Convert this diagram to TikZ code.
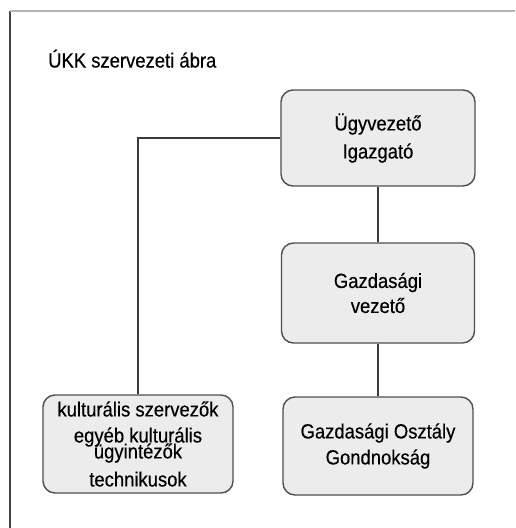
\documentclass[tikz,border=0pt]{standalone}
\usepackage{fontspec}
\setmainfont[FakeStretch=0.9,FakeBold=0.4]{Liberation Sans}
\begin{document}
\begin{tikzpicture}[x=1pt,y=-1pt,
  orgbox/.style={draw=boxline, fill=boxfill, line width=1.4pt, rounded corners=12pt,
    inner sep=0pt, align=center, font=\fontsize{20.5}{26}\selectfont},
  conn/.style={draw=connline, line width=1.4pt},
  ]
\definecolor{boxline}{HTML}{4F4F4F}
\definecolor{boxfill}{HTML}{ECECEC}
\definecolor{connline}{HTML}{3A3A3A}
\definecolor{frameleft}{HTML}{454545}
\definecolor{frametop}{HTML}{B4B4B4}
\useasboundingbox (0,0) rectangle (515,528);
\fill[white] (0,0) rectangle (515,528);
% frame
\coordinate (ftl) at (10,11);
\coordinate (fbl) at (10,528);
\coordinate (ftr) at (515,11);
\draw[frameleft, line width=1.3pt] (ftl) -- (fbl);
\draw[frametop, line width=1.3pt] (ftl) -- (ftr);
% title
\node[anchor=base west, inner sep=0pt, font=\fontsize{20.5}{22}\selectfont] (title) at (48,67.5) {ÚKK szervezeti ábra};
% boxes
\node[orgbox, minimum width=194pt, minimum height=96pt] (b1) at (378,138) {Ügyvezető\\[2pt]Igazgató};
\node[orgbox, minimum width=193pt, minimum height=100pt] (b2) at (378,293) {Gazdasági\\[-1pt]vezető};
\node[orgbox, minimum width=190pt, minimum height=98pt] (b3) at (138,444) {kulturális szervezők\\egyéb kulturális\\[-10pt]ügyintézők\\[2pt]technikusok};
\node[orgbox, minimum width=190pt, minimum height=98pt] (b4) at (378,446) {Gazdasági Osztály\\Gondnokság};
% connectors
\draw[conn] (b1.west) -| (b3.north);
\draw[conn] (b1.south) -- (b2.north);
\draw[conn] (b2.south) -- (b4.north);
\end{tikzpicture}
\end{document}
